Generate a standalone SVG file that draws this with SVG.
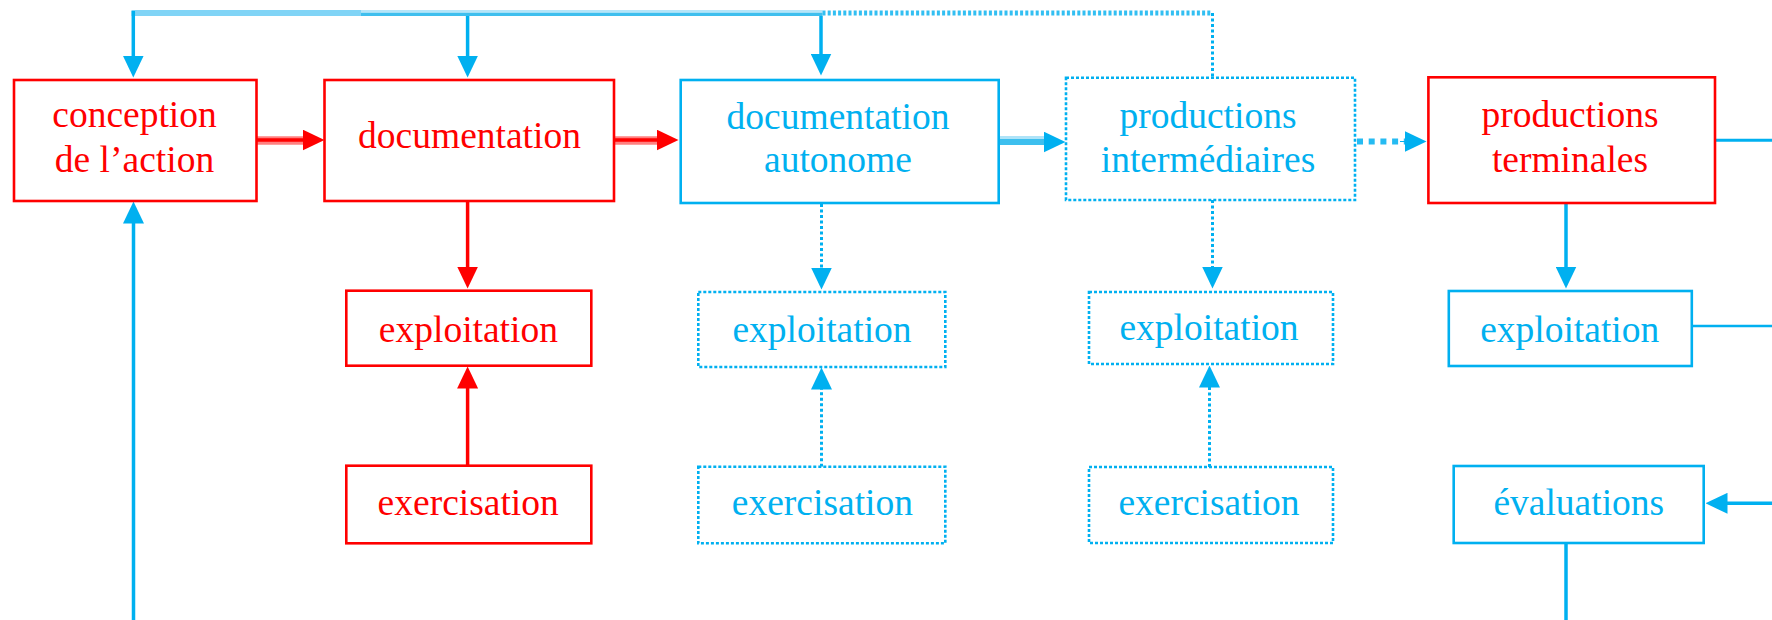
<svg xmlns="http://www.w3.org/2000/svg" width="1772" height="620" viewBox="0 0 1772 620">
<style>
  text { font-family: "Liberation Serif", "Times New Roman", serif; font-size: 37.5px; text-anchor: middle; }
  .tr { fill: #ff0000; }
  .tb { fill: #00b0f0; }
  .br { fill: #ffffff; stroke: #ff0000; stroke-width: 2.6; }
  .bb { fill: #ffffff; stroke: #00b0f0; stroke-width: 2.6; }
  .bd { fill: #ffffff; stroke: #00b0f0; stroke-width: 2.6; stroke-dasharray: 3 2; }
  .lr { fill: none; stroke: #ff0000; stroke-width: 3.5; }
  .lb { fill: none; stroke: #00b0f0; stroke-width: 3.5; }
  .ld { fill: none; stroke: #00b0f0; stroke-width: 3; stroke-dasharray: 3 2.5; }
</style>
<defs>
  <marker id="ar" viewBox="0 0 22 21" refX="0.5" refY="10.5" markerWidth="22" markerHeight="21" markerUnits="userSpaceOnUse" orient="auto">
    <path d="M0,0 L22,10.5 L0,21 z" fill="#ff0000"/>
  </marker>
  <marker id="ab" viewBox="0 0 22 21" refX="0.5" refY="10.5" markerWidth="22" markerHeight="21" markerUnits="userSpaceOnUse" orient="auto">
    <path d="M0,0 L22,10.5 L0,21 z" fill="#00b0f0"/>
  </marker>
</defs>

<g id="connectors">
  <!-- top feedback bus -->
  <line x1="131.5" y1="13" x2="361" y2="13" stroke="#80d4f6" stroke-width="6"/>
  <line x1="361" y1="11.3" x2="822.5" y2="11.3" stroke="#b5e5f9" stroke-width="2.8"/>
  <line x1="361" y1="14.4" x2="822.5" y2="14.4" stroke="#3fbfee" stroke-width="3.4"/>
  <line x1="822.5" y1="13" x2="1212.5" y2="13" stroke="#00b0f0" stroke-width="5" stroke-dasharray="3 2.2" opacity="0.8"/>
  <line x1="1212.5" y1="13" x2="1212.5" y2="78" class="ld"/>
  <line x1="133.3" y1="11" x2="133.3" y2="56" class="lb" marker-end="url(#ab)"/>
  <line x1="467.6" y1="16" x2="467.6" y2="56" class="lb" marker-end="url(#ab)"/>
  <line x1="821" y1="16" x2="821" y2="54" class="lb" marker-end="url(#ab)"/>
  <!-- from below into conception -->
  <line x1="133.5" y1="620" x2="133.5" y2="223" class="lb" marker-end="url(#ab)"/>
  <!-- main horizontal chain -->
  <line x1="256" y1="140.5" x2="303" y2="140.5" stroke="#ff8080" stroke-width="8.5"/>
  <line x1="256" y1="140" x2="303" y2="140" class="lr" marker-end="url(#ar)"/>
  <line x1="614" y1="140.5" x2="657" y2="140.5" stroke="#ff8080" stroke-width="8.5"/>
  <line x1="614" y1="140" x2="657" y2="140" class="lr" marker-end="url(#ar)"/>
  <line x1="999" y1="137.6" x2="1044" y2="137.6" stroke="#aee3f8" stroke-width="3.2"/>
  <line x1="999" y1="142" x2="1044" y2="142" stroke="#3dbfee" stroke-width="6" marker-end="url(#ab)"/>
  <line x1="1357" y1="141.5" x2="1405" y2="141.5" stroke="#00b0f0" stroke-width="6" stroke-dasharray="6 5.7" opacity="0.85"/>
  <line x1="1400" y1="141.5" x2="1405" y2="141.5" stroke="#00b0f0" stroke-width="1" marker-end="url(#ab)"/>
  <!-- documentation column -->
  <line x1="467.6" y1="201" x2="467.6" y2="267" class="lr" marker-end="url(#ar)"/>
  <line x1="467.6" y1="465.7" x2="467.6" y2="388" class="lr" marker-end="url(#ar)"/>
  <!-- documentation autonome column -->
  <line x1="821.5" y1="204" x2="821.5" y2="268" class="ld" marker-end="url(#ab)"/>
  <line x1="821.5" y1="466.7" x2="821.5" y2="389" class="ld" marker-end="url(#ab)"/>
  <!-- productions intermediaires column -->
  <line x1="1212.5" y1="200" x2="1212.5" y2="267" class="ld" marker-end="url(#ab)"/>
  <line x1="1209.5" y1="467" x2="1209.5" y2="387" class="ld" marker-end="url(#ab)"/>
  <!-- productions terminales column -->
  <line x1="1566" y1="203" x2="1566" y2="267" class="lb" marker-end="url(#ab)"/>
  <line x1="1715" y1="140.3" x2="1772" y2="140.3" stroke="#00b0f0" stroke-width="3"/>
  <line x1="1692" y1="326" x2="1772" y2="326" stroke="#00b0f0" stroke-width="2.5"/>
  <line x1="1772" y1="503.3" x2="1727" y2="503.3" class="lb" marker-end="url(#ab)"/>
  <line x1="1566" y1="543" x2="1566" y2="620" class="lb"/>
</g>

<g id="n-conception">
  <rect x="14" y="80" width="242.5" height="121" class="br"/>
  <text x="134.5" y="127" class="tr">conception</text>
  <text x="134.5" y="172" class="tr">de l’action</text>
</g>
<g id="n-documentation">
  <rect x="324.5" y="80" width="289.5" height="121" class="br"/>
  <text x="469.5" y="147.7" class="tr">documentation</text>
</g>
<g id="n-documentation-autonome">
  <rect x="680.7" y="80" width="318" height="123" class="bb"/>
  <text x="838" y="129" class="tb">documentation</text>
  <text x="838" y="172" class="tb">autonome</text>
</g>
<g id="n-productions-intermediaires">
  <rect x="1066" y="77.7" width="289" height="122.3" class="bd"/>
  <text x="1208" y="128" class="tb">productions</text>
  <text x="1208" y="172" class="tb">intermédiaires</text>
</g>
<g id="n-productions-terminales">
  <rect x="1428.4" y="77.3" width="286.6" height="125.7" class="br"/>
  <text x="1570" y="127" class="tr">productions</text>
  <text x="1570" y="172" class="tr">terminales</text>
</g>
<g id="n-exploitation-1">
  <rect x="346.3" y="290.7" width="245" height="75" class="br"/>
  <text x="468.4" y="341.7" class="tr">exploitation</text>
</g>
<g id="n-exercisation-1">
  <rect x="346.3" y="465.7" width="245" height="77.6" class="br"/>
  <text x="468.2" y="515" class="tr">exercisation</text>
</g>
<g id="n-exploitation-2">
  <rect x="698.3" y="292" width="247" height="75" class="bd"/>
  <text x="822" y="341.7" class="tb">exploitation</text>
</g>
<g id="n-exercisation-2">
  <rect x="698.3" y="466.7" width="247" height="76.6" class="bd"/>
  <text x="822.4" y="515" class="tb">exercisation</text>
</g>
<g id="n-exploitation-3">
  <rect x="1089" y="292" width="244" height="72" class="bd"/>
  <text x="1209" y="340" class="tb">exploitation</text>
</g>
<g id="n-exercisation-3">
  <rect x="1089" y="467" width="244" height="76" class="bd"/>
  <text x="1209" y="515" class="tb">exercisation</text>
</g>
<g id="n-exploitation-4">
  <rect x="1448.8" y="291" width="243" height="75" class="bb"/>
  <text x="1569.7" y="341.7" class="tb">exploitation</text>
</g>
<g id="n-evaluations">
  <rect x="1453.7" y="466" width="250" height="77" class="bb"/>
  <text x="1578.8" y="515" class="tb">évaluations</text>
</g>
</svg>
